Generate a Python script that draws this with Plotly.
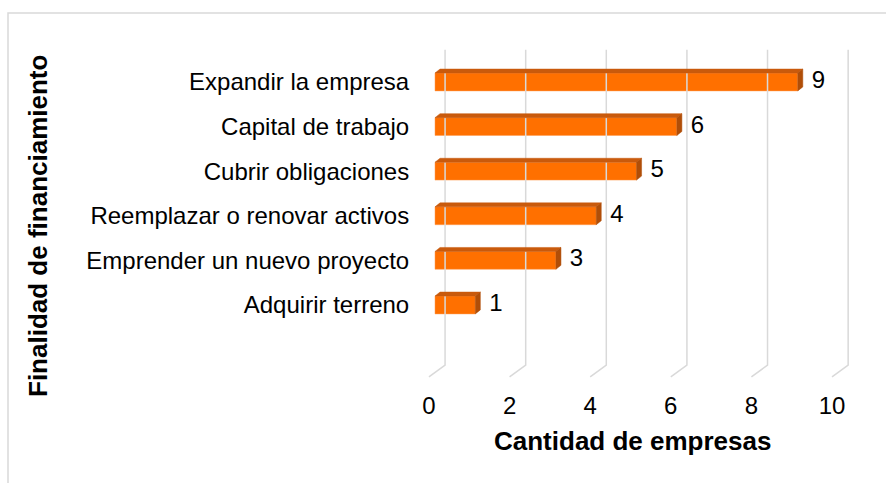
import plotly.graph_objects as go

# data
categories = ['Expandir la empresa', 'Capital de trabajo', 'Cubrir obligaciones',
              'Reemplazar o renovar activos', 'Emprender un nuevo proyecto', 'Adquirir terreno']
values = [9, 6, 5, 4, 3, 1]
x_ticks = [0, 2, 4, 6, 8, 10]

# pseudo-3D geometry (data units)
BAR_W = 0.40      # front face thickness (category units)
DEPTH_X = 0.125   # depth offset along x
DEPTH_Y = 0.09    # depth offset along y (up)
GRID_BACK = 0.25  # back wall offset of gridlines
GRID_FRONT = -0.15
GRID_TOP = -0.72
GRID_BOTTOM = 6.35
FLOOR_FRONT = 6.61

FRONT = '#FF7000'
TOP = '#C95A0C'
SIDE = '#B04E08'
GRID = '#D9D9D9'
FONT = 'Liberation Sans, Arial, sans-serif'

ypos = list(range(len(categories)))

fig = go.Figure()

# gridlines: back wall verticals + floor slants
gx, gy = [], []
for t in x_ticks:
    gx += [t + GRID_BACK, t + GRID_BACK, t + GRID_FRONT, None]
    gy += [GRID_TOP, GRID_BOTTOM, FLOOR_FRONT, None]
fig.add_trace(go.Scatter(x=gx, y=gy, mode='lines', line=dict(color=GRID, width=1.5),
                         hoverinfo='skip', showlegend=False))

# front faces
fig.add_trace(go.Bar(
    y=ypos, x=values, orientation='h', width=BAR_W,
    marker=dict(color=FRONT, line=dict(color='#FF9A50', width=0.5)),
    hovertemplate='%{x}<extra></extra>', showlegend=False
))

# top and side faces
tx, ty, sx, sy = [], [], [], []
for yc, v in zip(ypos, values):
    top = yc - BAR_W / 2
    bot = yc + BAR_W / 2
    tx += [0, v, v + DEPTH_X, DEPTH_X, 0, None]
    ty += [top, top, top - DEPTH_Y, top - DEPTH_Y, top, None]
    sx += [v, v + DEPTH_X, v + DEPTH_X, v, v, None]
    sy += [top, top - DEPTH_Y, bot - DEPTH_Y, bot, top, None]
fig.add_trace(go.Scatter(x=tx, y=ty, mode='lines', fill='toself', fillcolor=TOP,
                         line=dict(color=TOP, width=0.5), hoverinfo='skip', showlegend=False))
fig.add_trace(go.Scatter(x=sx, y=sy, mode='lines', fill='toself', fillcolor=SIDE,
                         line=dict(color=SIDE, width=0.5), hoverinfo='skip', showlegend=False))

# data labels
fig.add_trace(go.Scatter(
    x=[v + DEPTH_X + 0.22 for v in values], y=ypos, mode='text',
    text=[str(v) for v in values], textposition='middle right',
    textfont=dict(family=FONT, size=24, color='#000000'),
    hoverinfo='skip', showlegend=False
))

fig.update_layout(
    width=886, height=483,
    margin=dict(l=425, r=31, t=43, b=100),
    plot_bgcolor='white', paper_bgcolor='white',
    font=dict(family=FONT, size=24, color='#000000'),
    xaxis=dict(
        range=[-0.248, 10.42],
        tickvals=[t + GRID_FRONT for t in x_ticks],
        ticktext=[str(t) for t in x_ticks],
        showgrid=False, zeroline=False, showline=False,
        ticks='outside', ticklen=1, tickcolor='rgba(0,0,0,0)',
    ),
    yaxis=dict(
        range=[6.749, -0.874],
        tickvals=ypos, ticktext=categories,
        showgrid=False, zeroline=False, showline=False,
        ticks='outside', ticklen=10, tickcolor='rgba(0,0,0,0)',
    ),
    annotations=[
        dict(text='<b>Cantidad de empresas</b>', xref='paper', yref='paper',
             x=(632 - 425) / 430, y=(383 - 441) / 340, showarrow=False,
             xanchor='center', yanchor='middle', font=dict(family=FONT, size=26)),
        dict(text='<b>Finalidad de financiamiento</b>', xref='paper', yref='paper',
             x=(38 - 425) / 430, y=(383 - 226) / 340, showarrow=False, textangle=-90,
             xanchor='center', yanchor='middle', font=dict(family=FONT, size=26)),
    ],
    shapes=[
        dict(type='rect', xref='paper', yref='paper',
             x0=(8 - 425) / 430, x1=(895 - 425) / 430,
             y0=(383 - 495) / 340, y1=(383 - 13) / 340,
             line=dict(color=GRID, width=1.5), fillcolor='rgba(0,0,0,0)', layer='below'),
    ],
)

fig.write_html('out.html', config={'displayModeBar': False},
               post_script="document.body.style.margin='0';")
